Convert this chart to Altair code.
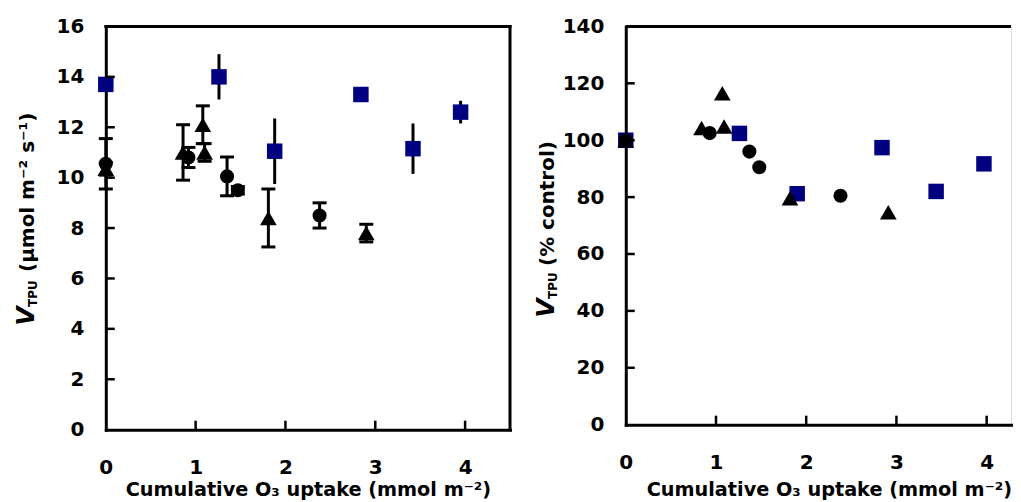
import altair as alt
import pandas as pd

FONT = "DejaVu Sans"
NAVY = "#000080"

# ---------------- data ----------------
# Left panel: V_TPU (µmol m-2 s-1) vs cumulative O3 uptake
circ_x = [0.00, 0.92, 1.35, 1.47, 2.38]
circ_y = [10.55, 10.8, 10.05, 9.5, 8.5]
circ_err = [1.0, 0.4, 0.77, 0.15, 0.5]

tri_x = [0.00, 0.86, 1.08, 1.10, 1.81, 2.90]
tri_y = [10.35, 11.0, 12.1, 11.0, 8.4, 7.8]
tri_err = [0.25, 1.1, 0.75, 0.35, 1.15, 0.35]

sq_x = [0.00, 1.26, 1.88, 2.84, 3.42, 3.95]
sq_y = [13.7, 14.0, 11.05, 13.3, 11.15, 12.6]
sq_err = [0.2, 0.9, 1.3, 0.0, 1.0, 0.45]

# Right panel: V_TPU (% control)
circ_pct_x = [0.00, 0.93, 1.37, 1.48, 2.38]
circ_pct = [100, 102.5, 96, 90.5, 80.5]

tri_pct_x = [0.00, 0.84, 1.07, 1.09, 1.82, 2.91]
tri_pct = [100, 104.3, 116.5, 104.8, 79.6, 74.7]

sq_pct_x = [0.00, 1.26, 1.90, 2.84, 3.44, 3.97]
sq_pct = [100, 102.4, 81.2, 97.4, 82, 91.7]

# axes
x_labels = [0, 1, 2, 3, 4]
x_ticks = [1, 2, 3, 4]
left_y_labels = [0, 2, 4, 6, 8, 10, 12, 14, 16]
left_y_ticks = [2, 4, 6, 8, 10, 12, 14]
right_y_labels = [0, 20, 40, 60, 80, 100, 120, 140]
right_y_ticks = [20, 40, 60, 80, 100, 120]

x_title = "Cumulative O₃ uptake (mmol m⁻²)"
y_symbol = "V"
y_sub = "TPU"
left_y_unit = "(µmol m⁻² s⁻¹)"
right_y_unit = "(% control)"


def series(xs, ys, errs, kind):
    df = pd.DataFrame({"x": xs, "y": ys, "kind": kind})
    if errs is not None:
        df["lo"] = [a - e for a, e in zip(ys, errs)]
        df["hi"] = [a + e for a, e in zip(ys, errs)]
        df["err"] = errs
    return df


def panel(circ, tri, sq, W, H, xmax, ymax, ylabels, yticks, unit,
          v_start, sub_start, unit_start, title_x, title_y, right_border):
    xs = alt.Scale(domain=[0, xmax], nice=False, zero=False)
    ys = alt.Scale(domain=[0, ymax], nice=False, zero=False)
    xax = alt.Axis(values=x_labels, ticks=False, grid=False, format="d",
                   domainWidth=3, domainColor="black", domainCap="square",
                   labelFont=FONT, labelFontSize=20, labelFontWeight="bold",
                   labelColor="black", labelPadding=28, labelFlush=False,
                   title=x_title, titleFont=FONT, titleFontSize=19.3,
                   titleFontWeight="bold", titleColor="black",
                   titleBaseline="alphabetic", titleX=title_x, titleY=title_y)
    yax = alt.Axis(values=ylabels, ticks=False, grid=False, format="d",
                   domainWidth=3, domainColor="black", domainCap="square",
                   labelFont=FONT, labelFontSize=20, labelFontWeight="bold",
                   labelColor="black", labelPadding=22, labelFlush=False,
                   title=None)
    X = alt.X("x:Q", scale=xs, axis=xax)
    Y = alt.Y("y:Q", scale=ys, axis=yax)

    layers = []
    all_df = pd.concat([circ, tri, sq], ignore_index=True)
    has_err = "lo" in all_df.columns
    if has_err:
        bars = all_df[all_df["err"] > 0]
        layers.append(
            alt.Chart(bars).mark_rule(color="black", strokeWidth=3)
            .encode(x=X, y=alt.Y("lo:Q", scale=ys, axis=yax), y2="hi:Q"))
        black = pd.concat([circ, tri], ignore_index=True)
        black = black[black["err"] > 0]
        caps = pd.concat([
            pd.DataFrame({"x": black["x"], "y": black["lo"]}),
            pd.DataFrame({"x": black["x"], "y": black["hi"]}),
        ], ignore_index=True)
        layers.append(
            alt.Chart(caps).mark_tick(orient="horizontal", size=14, thickness=3,
                                      color="black", opacity=1)
            .encode(x=X, y=Y))
    layers.append(
        alt.Chart(sq).mark_point(shape="square", filled=True, size=240,
                                 color=NAVY, opacity=1, strokeWidth=0)
        .encode(x=X, y=Y))
    layers.append(
        alt.Chart(circ).mark_point(shape="circle", filled=True, size=200,
                                   color="black", opacity=1, strokeWidth=0)
        .encode(x=X, y=Y))
    layers.append(
        alt.Chart(tri).mark_point(shape="triangle-up", filled=True, size=280,
                                  color="black", opacity=1, strokeWidth=0)
        .encode(x=X, y=Y))

    # inward tick marks
    layers.append(
        alt.Chart(pd.DataFrame({"v": yticks})).mark_rule(color="black", strokeWidth=2.5)
        .encode(y=alt.Y("v:Q", scale=ys, axis=yax), x=alt.value(0), x2=alt.value(9)))
    layers.append(
        alt.Chart(pd.DataFrame({"v": x_ticks})).mark_rule(color="black", strokeWidth=2.5)
        .encode(x=alt.X("v:Q", scale=xs, axis=xax), y=alt.value(H), y2=alt.value(H - 9)))

    # frame: top (and right for left panel)
    layers.append(
        alt.Chart(pd.DataFrame({"k": [0]})).mark_rule(color="black", strokeWidth=3,
                                                      strokeCap="square" if right_border else "butt")
        .encode(x=alt.value(0), x2=alt.value(W), y=alt.value(0)))
    if right_border:
        layers.append(
            alt.Chart(pd.DataFrame({"k": [0]})).mark_rule(color="black", strokeWidth=3,
                                                          strokeCap="square")
            .encode(x=alt.value(W), y=alt.value(0), y2=alt.value(H)))

    # y title pieces (rotated)
    layers.append(
        alt.Chart(pd.DataFrame({"t": [y_symbol]})).mark_text(
            font=FONT, fontSize=25, fontWeight="bold", fontStyle="italic",
            angle=270, align="left", baseline="alphabetic", color="black")
        .encode(text="t:N", x=alt.value(-72), y=alt.value(v_start)))
    layers.append(
        alt.Chart(pd.DataFrame({"t": [y_sub]})).mark_text(
            font=FONT, fontSize=12, fontWeight="bold",
            angle=270, align="left", baseline="alphabetic", color="black")
        .encode(text="t:N", x=alt.value(-69), y=alt.value(sub_start)))
    layers.append(
        alt.Chart(pd.DataFrame({"t": [unit]})).mark_text(
            font=FONT, fontSize=20, fontWeight="bold",
            angle=270, align="left", baseline="alphabetic", color="black")
        .encode(text="t:N", x=alt.value(-72), y=alt.value(unit_start)))

    return alt.layer(*layers).properties(width=W, height=H)


left = panel(series(circ_x, circ_y, circ_err, "circle"),
             series(tri_x, tri_y, tri_err, "triangle"),
             series(sq_x, sq_y, sq_err, "square"),
             W=405, H=404, xmax=4.5, ymax=16,
             ylabels=left_y_labels, yticks=left_y_ticks, unit=left_y_unit,
             v_start=300, sub_start=281, unit_start=246,
             title_x=202.5, title_y=66, right_border=True)

right = panel(series(circ_pct_x, circ_pct, None, "circle"),
              series(tri_pct_x, tri_pct, None, "triangle"),
              series(sq_pct_x, sq_pct, None, "square"),
              W=386, H=399, xmax=4.27, ymax=140,
              ylabels=right_y_labels, yticks=right_y_ticks, unit=right_y_unit,
              v_start=292, sub_start=273, unit_start=240,
              title_x=203.5, title_y=71, right_border=False)

chart = alt.hconcat(left, right, spacing=116, bounds="flush").properties(
    padding={"left": 5, "top": 7, "right": 0, "bottom": 0}
).configure_view(stroke=None).configure(background="white")

chart.save("out.html", embed_options={"renderer": "svg", "actions": False})
